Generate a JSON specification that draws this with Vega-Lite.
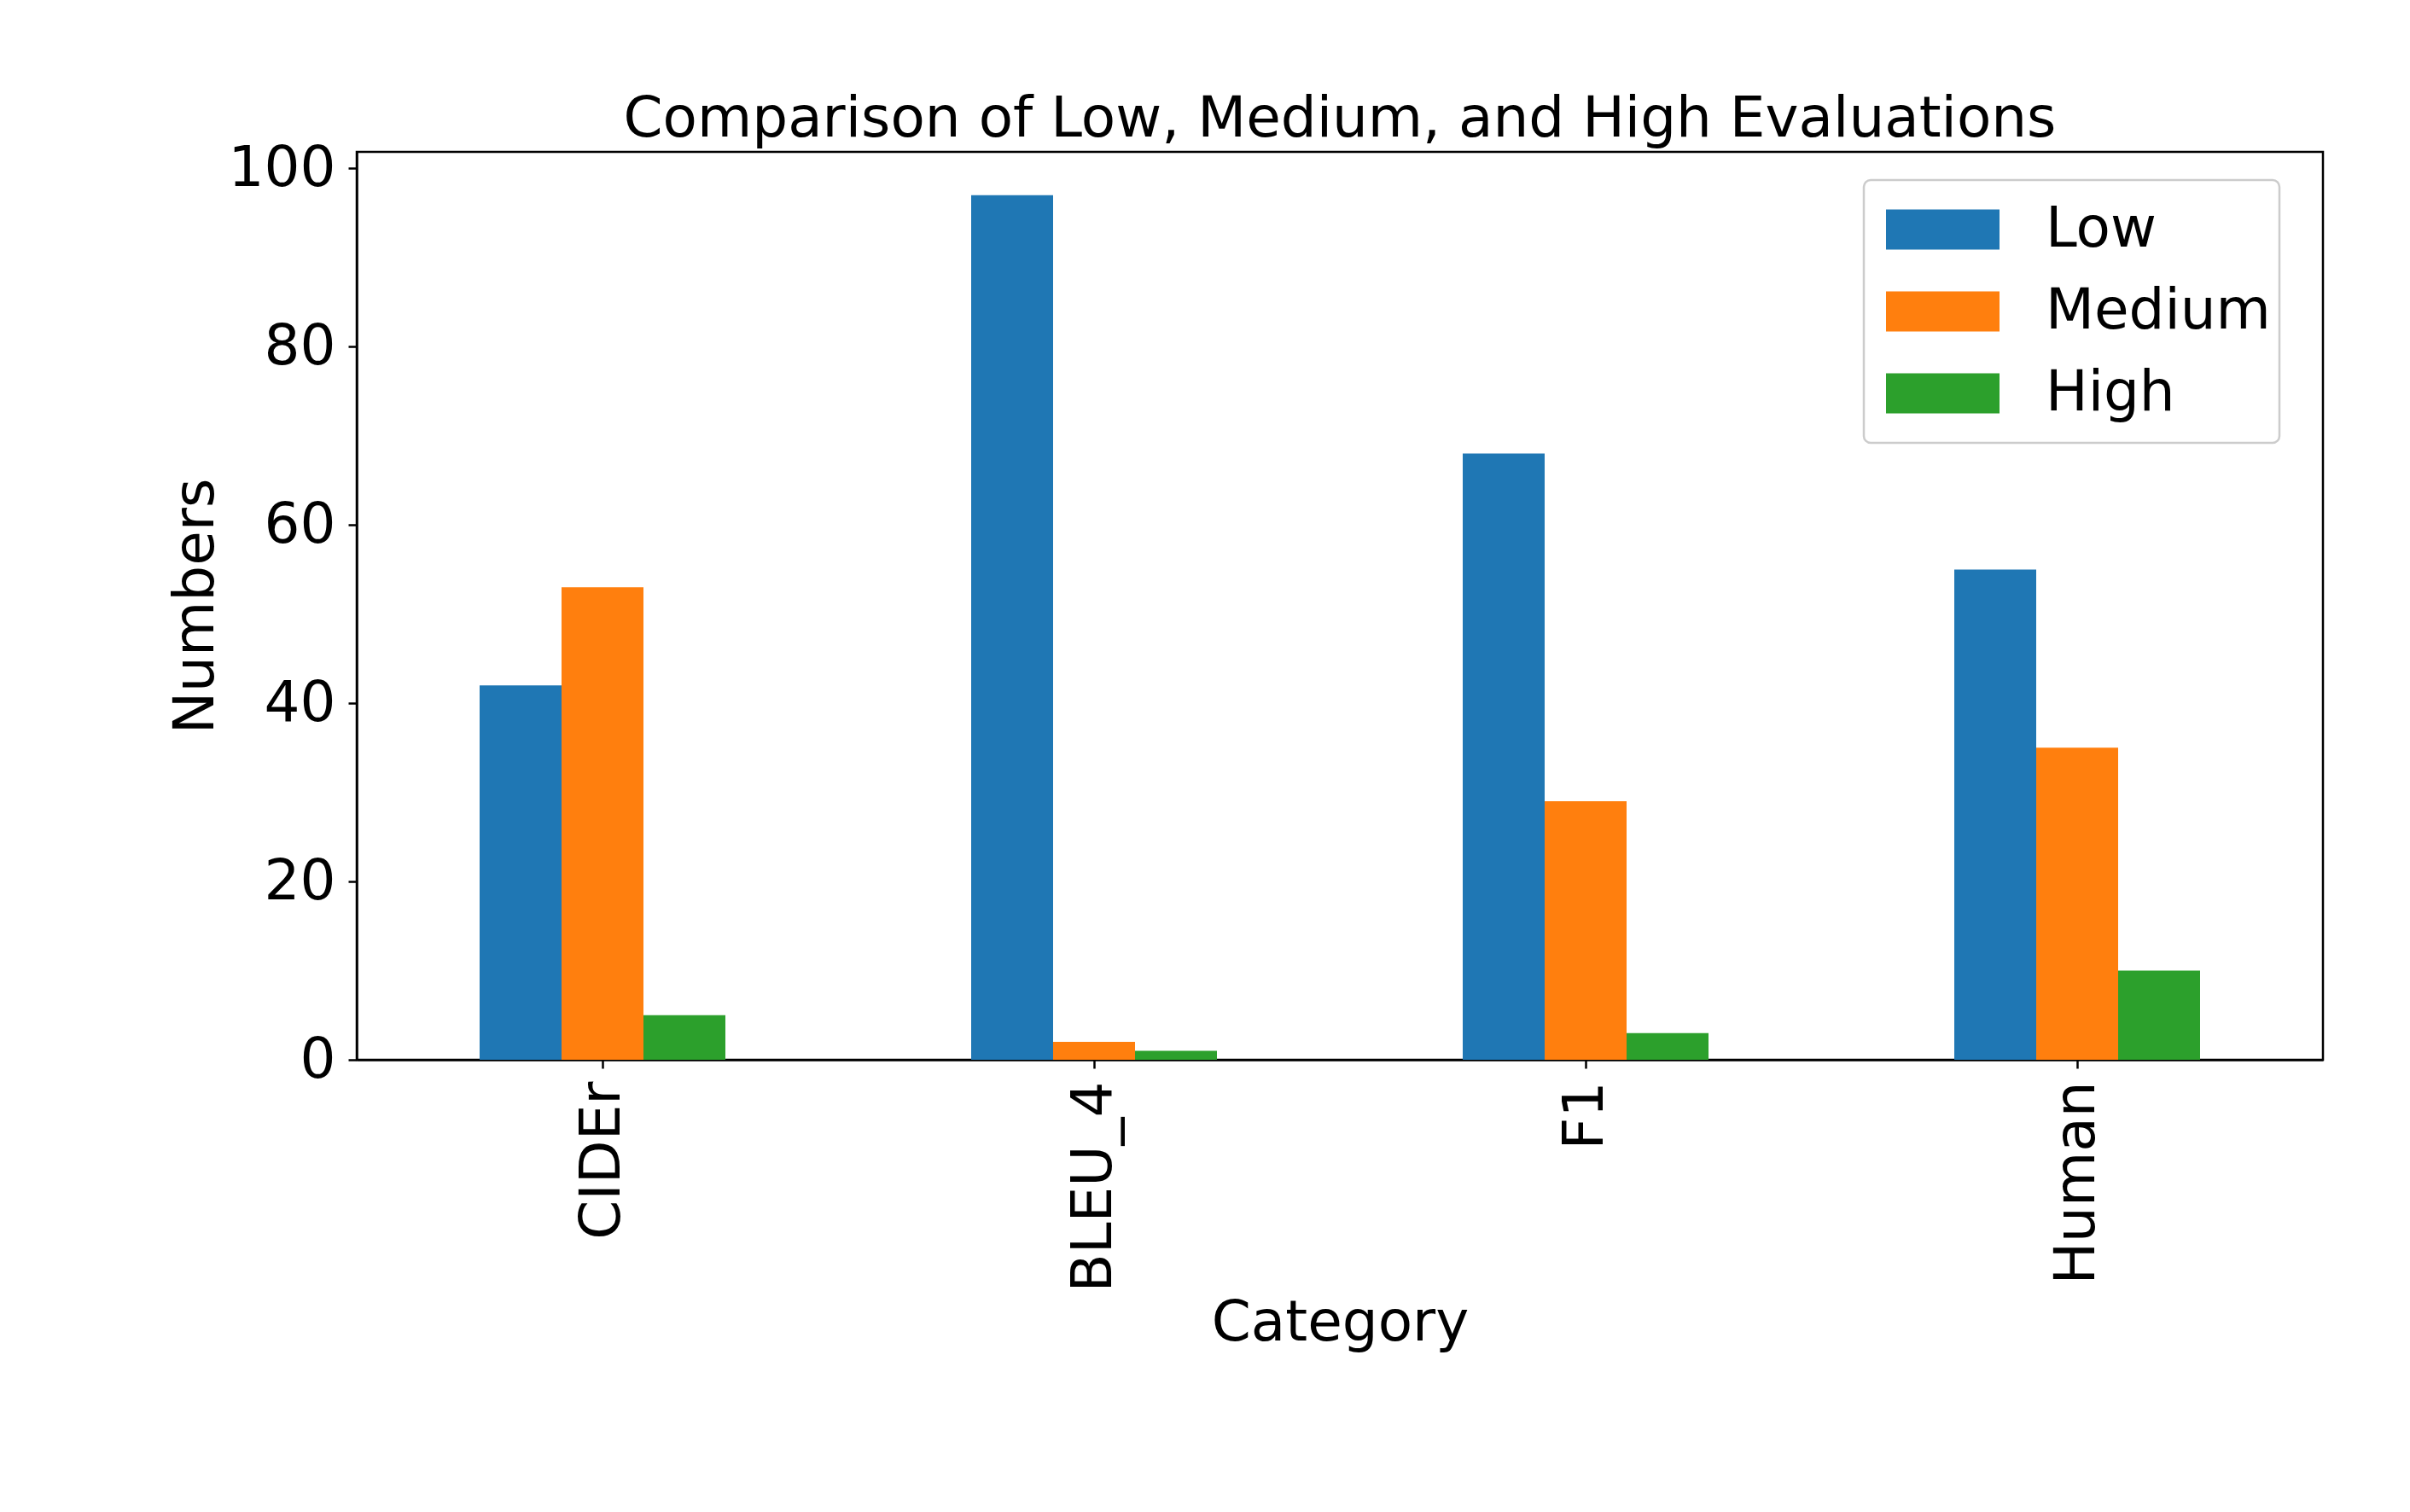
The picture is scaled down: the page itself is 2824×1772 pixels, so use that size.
{
  "$schema": "https://vega.github.io/schema/vega-lite/v6.json",
  "autosize": {"type": "none"},
  "padding": {"left": 418, "top": 178, "right": 102, "bottom": 530},
  "width": 2304,
  "height": 1064,
  "background": "white",
  "title": {
    "text": "Comparison of Low, Medium, and High Evaluations",
    "fontSize": 66,
    "font": "DejaVu Sans",
    "fontWeight": "normal",
    "color": "black",
    "anchor": "middle",
    "offset": -10
  },
  "data": {
    "values": [
      {"category": "CIDEr", "level": "Low", "value": 42},
      {"category": "CIDEr", "level": "Medium", "value": 53},
      {"category": "CIDEr", "level": "High", "value": 5},
      {"category": "BLEU_4", "level": "Low", "value": 97},
      {"category": "BLEU_4", "level": "Medium", "value": 2},
      {"category": "BLEU_4", "level": "High", "value": 1},
      {"category": "F1", "level": "Low", "value": 68},
      {"category": "F1", "level": "Medium", "value": 29},
      {"category": "F1", "level": "High", "value": 3},
      {"category": "Human", "level": "Low", "value": 55},
      {"category": "Human", "level": "Medium", "value": 35},
      {"category": "Human", "level": "High", "value": 10}
    ]
  },
  "mark": {"type": "bar"},
  "encoding": {
    "x": {
      "field": "category",
      "type": "nominal",
      "sort": ["CIDEr", "BLEU_4", "F1", "Human"],
      "scale": {"paddingInner": 0.5, "paddingOuter": 0.25},
      "axis": {
        "title": "Category",
        "labelAngle": -90,
        "labelAlign": "right",
        "labelBaseline": "middle",
        "labelPadding": 15,
        "titlePadding": 76,
        "bandPosition": 0.5
      }
    },
    "xOffset": {
      "field": "level",
      "type": "nominal",
      "sort": ["Low", "Medium", "High"],
      "scale": {"paddingInner": 0, "paddingOuter": 0}
    },
    "y": {
      "field": "value",
      "type": "quantitative",
      "scale": {"domain": [0, 101.85], "nice": false, "zero": true},
      "axis": {
        "title": "Numbers",
        "values": [0, 20, 40, 60, 80, 100],
        "labelPadding": 15,
        "titlePadding": 4
      }
    },
    "color": {
      "field": "level",
      "type": "nominal",
      "sort": ["Low", "Medium", "High"],
      "scale": {"domain": ["Low", "Medium", "High"], "range": ["#1f77b4", "#ff7f0e", "#2ca02c"]},
      "legend": {
        "title": null,
        "orient": "none",
        "legendX": 1766,
        "legendY": 33,
        "symbolType": "M-1,-0.353H1V0.353H-1Z",
        "symbolSize": 17689,
        "symbolStrokeWidth": 0,
        "clipHeight": 96,
        "rowPadding": 0,
        "padding": 10,
        "symbolOffset": 16,
        "labelOffset": 54,
        "labelFontSize": 66,
        "labelFont": "DejaVu Sans",
        "labelColor": "black",
        "labelLimit": 1000,
        "strokeColor": "#cccccc",
        "fillColor": "white",
        "cornerRadius": 8,
        "encode": {"legend": {"update": {"strokeWidth": {"value": 2.5}}}}
      }
    }
  },
  "config": {
    "font": "DejaVu Sans",
    "view": {"stroke": "black", "strokeWidth": 2.5},
    "axis": {
      "grid": false,
      "domainColor": "black",
      "domainWidth": 2.5,
      "tickColor": "black",
      "tickWidth": 2.5,
      "tickSize": 10,
      "labelFont": "DejaVu Sans",
      "labelFontSize": 66,
      "labelColor": "black",
      "labelLimit": 1000,
      "titleFont": "DejaVu Sans",
      "titleFontSize": 66,
      "titleFontWeight": "normal",
      "titleColor": "black"
    }
  }
}
